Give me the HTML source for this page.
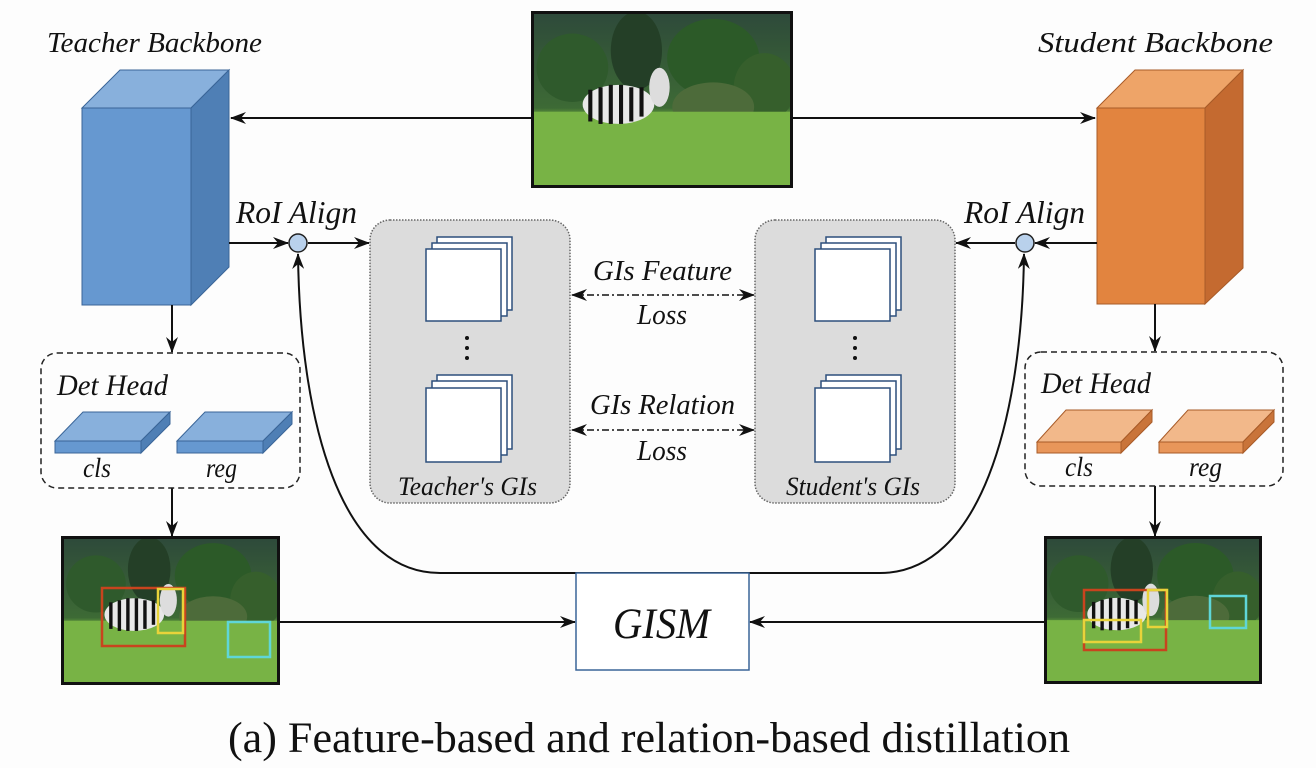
<!DOCTYPE html>
<html><head><meta charset="utf-8"><style>
html,body{margin:0;padding:0;background:#fdfdfd;}
svg{display:block}
text{font-family:"Liberation Serif",serif;font-style:italic;fill:#111;}
</style></head><body>
<svg width="1316" height="768" viewBox="0 0 1316 768" xmlns="http://www.w3.org/2000/svg">
<defs>
<marker id="ah" viewBox="0 0 16 12" refX="15" refY="6" markerWidth="16" markerHeight="12" markerUnits="userSpaceOnUse" orient="auto-start-reverse">
<path d="M0,0 L16,6 L0,12 L5,6 z" fill="#111"/></marker>
<linearGradient id="sky" x1="0" y1="0" x2="0" y2="1">
<stop offset="0" stop-color="#2e4a3a"/><stop offset="0.55" stop-color="#3d6a35"/><stop offset="0.6" stop-color="#6aa43c"/><stop offset="1" stop-color="#7db74a"/></linearGradient>
<symbol id="scene" viewBox="0 0 100 70" preserveAspectRatio="none">
<rect width="100" height="70" fill="url(#sky)"/>
<ellipse cx="15" cy="22" rx="14" ry="14" fill="#2f5a2c"/>
<ellipse cx="40" cy="15" rx="10" ry="16" fill="#243f27"/>
<ellipse cx="70" cy="18" rx="18" ry="16" fill="#2c5a28"/>
<ellipse cx="90" cy="30" rx="12" ry="14" fill="#365f2c"/>
<ellipse cx="70" cy="38" rx="16" ry="10" fill="#4d6b3a"/>
<rect x="0" y="40" width="100" height="30" fill="#78b345"/>
<ellipse cx="33" cy="37" rx="14" ry="8" fill="#e8e8e8"/>
<g stroke="#111" stroke-width="1.6">
<line x1="22" y1="31" x2="22" y2="44"/><line x1="26" y1="30" x2="26" y2="45"/><line x1="30" y1="29" x2="30" y2="45"/><line x1="34" y1="29" x2="34" y2="45"/><line x1="38" y1="30" x2="38" y2="44"/><line x1="42" y1="30" x2="42" y2="42"/></g>
<ellipse cx="49" cy="30" rx="4" ry="8" fill="#ddd"/>
</symbol>
</defs>

<rect x="531" y="11" width="262" height="177" fill="#111"/>
<use href="#scene" x="534" y="14" width="256" height="171"/>

<rect x="61" y="536" width="219" height="149" fill="#111"/>
<use href="#scene" x="64" y="539" width="213" height="143"/>
<g fill="none" stroke-width="2.5">
<rect x="102" y="588" width="83" height="58" stroke="#c8441e"/>
<rect x="158" y="589" width="25" height="44" stroke="#e8d33a"/>
<rect x="228" y="622" width="42" height="35" stroke="#5fd6d8"/>
</g>
<rect x="1044" y="536" width="218" height="148" fill="#111"/>
<use href="#scene" x="1047" y="539" width="212" height="142"/>
<g fill="none" stroke-width="2.5">
<rect x="1084" y="590" width="82" height="60" stroke="#c8441e"/>
<rect x="1148" y="590" width="19" height="37" stroke="#e8d33a"/>
<rect x="1084" y="620" width="57" height="22" stroke="#e8d33a"/>
<rect x="1210" y="596" width="36" height="32" stroke="#5fd6d8"/>
</g>

<polygon points="82,108 120,70 229,70 191,108" fill="#88b0dc" stroke="#3a6598" stroke-width="1"/>
<polygon points="191,108 229,70 229,267 191,305" fill="#4f7fb5" stroke="#3a6598" stroke-width="1"/>
<rect x="82" y="108" width="109" height="197" fill="#6698d0" stroke="#3a6598" stroke-width="1"/>
<polygon points="1097,108 1135,70 1243,70 1205,108" fill="#eea468" stroke="#a85b28" stroke-width="1"/>
<polygon points="1205,108 1243,70 1243,268 1205,304" fill="#c46a30" stroke="#a85b28" stroke-width="1"/>
<rect x="1097" y="108" width="108" height="196" fill="#e2843f" stroke="#a85b28" stroke-width="1"/>

<text x="47" y="52" font-size="28" textLength="215" lengthAdjust="spacingAndGlyphs">Teacher Backbone</text>
<text x="1038" y="52" font-size="28" textLength="235" lengthAdjust="spacingAndGlyphs">Student Backbone</text>

<g stroke="#111" stroke-width="2" fill="none">
<line x1="531" y1="118" x2="231" y2="118" marker-end="url(#ah)"/>
<line x1="793" y1="118" x2="1095" y2="118" marker-end="url(#ah)"/>
<line x1="229" y1="243" x2="288" y2="243" marker-end="url(#ah)"/>
<line x1="308" y1="243" x2="369" y2="243" marker-end="url(#ah)"/>
<line x1="1097" y1="243" x2="1035" y2="243" marker-end="url(#ah)"/>
<line x1="1015" y1="243" x2="956" y2="243" marker-end="url(#ah)"/>
<line x1="172" y1="305" x2="172" y2="352" marker-end="url(#ah)"/>
<line x1="1155" y1="304" x2="1155" y2="351" marker-end="url(#ah)"/>
<line x1="172" y1="488" x2="172" y2="536" marker-end="url(#ah)"/>
<line x1="1155" y1="486" x2="1155" y2="536" marker-end="url(#ah)"/>
<line x1="280" y1="622" x2="575" y2="622" marker-end="url(#ah)"/>
<line x1="1044" y1="622" x2="750" y2="622" marker-end="url(#ah)"/>
<path d="M298,254 C300,420 340,573 440,573 L880,573 C980,573 1022,420 1024,254" marker-start="url(#ah)" marker-end="url(#ah)"/>
</g>
<circle cx="298" cy="243" r="9" fill="#b9d1ec" stroke="#222" stroke-width="1.5"/>
<circle cx="1025" cy="243" r="9" fill="#b9d1ec" stroke="#222" stroke-width="1.5"/>
<text x="236" y="223" font-size="32" textLength="121" lengthAdjust="spacingAndGlyphs">RoI Align</text>
<text x="964" y="223" font-size="32" textLength="121" lengthAdjust="spacingAndGlyphs">RoI Align</text>

<rect x="370" y="220" width="200" height="283" rx="20" fill="#dcdcdc" stroke="#666" stroke-width="1.5" stroke-dasharray="1.5,1.5"/>
<rect x="755" y="220" width="200" height="283" rx="20" fill="#dcdcdc" stroke="#666" stroke-width="1.5" stroke-dasharray="1.5,1.5"/>
<g fill="#fff" stroke="#2d4f7c" stroke-width="1.5">
<rect x="437" y="237" width="75" height="73"/><rect x="432" y="243" width="75" height="73"/><rect x="426" y="249" width="75" height="72"/>
<rect x="437" y="375" width="75" height="74"/><rect x="432" y="381" width="75" height="74"/><rect x="426" y="388" width="75" height="74"/>
<rect x="826" y="237" width="75" height="73"/><rect x="821" y="243" width="75" height="73"/><rect x="815" y="249" width="75" height="72"/>
<rect x="826" y="375" width="75" height="74"/><rect x="821" y="381" width="75" height="74"/><rect x="815" y="388" width="75" height="74"/>
</g>
<g fill="#111"><circle cx="467" cy="338" r="2"/><circle cx="467" cy="348" r="2"/><circle cx="467" cy="358" r="2"/>
<circle cx="855" cy="338" r="2"/><circle cx="855" cy="348" r="2"/><circle cx="855" cy="358" r="2"/></g>
<text x="398" y="495" font-size="26" textLength="139" lengthAdjust="spacingAndGlyphs">Teacher's GIs</text>
<text x="786" y="495" font-size="26" textLength="134" lengthAdjust="spacingAndGlyphs">Student's GIs</text>

<g stroke="#111" stroke-width="1.6" fill="none" stroke-dasharray="7,3,2,3">
<line x1="572" y1="295" x2="754" y2="295" marker-start="url(#ah)" marker-end="url(#ah)"/>
<line x1="572" y1="430" x2="754" y2="430" marker-start="url(#ah)" marker-end="url(#ah)"/>
</g>
<text x="593" y="280" font-size="28" textLength="139" lengthAdjust="spacingAndGlyphs">GIs Feature</text>
<text x="637" y="324" font-size="28" textLength="50" lengthAdjust="spacingAndGlyphs">Loss</text>
<text x="590" y="414" font-size="28" textLength="145" lengthAdjust="spacingAndGlyphs">GIs Relation</text>
<text x="637" y="460" font-size="28" textLength="50" lengthAdjust="spacingAndGlyphs">Loss</text>

<rect x="41" y="353" width="259" height="135" rx="16" fill="none" stroke="#222" stroke-width="1.5" stroke-dasharray="6,4"/>
<rect x="1025" y="352" width="258" height="134" rx="16" fill="none" stroke="#222" stroke-width="1.5" stroke-dasharray="6,4"/>
<text x="57" y="395" font-size="30" textLength="111" lengthAdjust="spacingAndGlyphs">Det Head</text>
<text x="1041" y="393" font-size="30" textLength="110" lengthAdjust="spacingAndGlyphs">Det Head</text>
<g stroke="#3a6598" stroke-width="1">
<polygon points="55,441 83,412 170,412 141,441" fill="#88b0dc"/><polygon points="141,441 170,412 170,424 141,453" fill="#4f7fb5"/><rect x="55" y="441" width="86" height="12" fill="#6698d0"/>
<polygon points="177,441 205,412 292,412 263,441" fill="#88b0dc"/><polygon points="263,441 292,412 292,424 263,453" fill="#4f7fb5"/><rect x="177" y="441" width="86" height="12" fill="#6698d0"/>
</g>
<g stroke="#a85b28" stroke-width="1">
<polygon points="1037,442 1066,410 1152,410 1121,442" fill="#f2b88a"/><polygon points="1121,442 1152,410 1152,422 1121,453" fill="#c9743a"/><rect x="1037" y="442" width="84" height="11" fill="#e8965a"/>
<polygon points="1159,442 1188,410 1274,410 1243,442" fill="#f2b88a"/><polygon points="1243,442 1274,410 1274,422 1243,453" fill="#c9743a"/><rect x="1159" y="442" width="84" height="11" fill="#e8965a"/>
</g>
<text x="83" y="477" font-size="27" textLength="28" lengthAdjust="spacingAndGlyphs">cls</text>
<text x="206" y="477" font-size="27" textLength="31" lengthAdjust="spacingAndGlyphs">reg</text>
<text x="1065" y="476" font-size="27" textLength="28" lengthAdjust="spacingAndGlyphs">cls</text>
<text x="1189" y="476" font-size="27" textLength="33" lengthAdjust="spacingAndGlyphs">reg</text>

<rect x="576" y="573" width="173" height="97" fill="#fff" stroke="#3a6598" stroke-width="1.5"/>
<text x="613" y="638" font-size="43" textLength="97" lengthAdjust="spacingAndGlyphs">GISM</text>

<text x="228" y="752" font-size="43" textLength="842" lengthAdjust="spacingAndGlyphs" style="font-style:normal">(a)  Feature-based and relation-based distillation</text>
</svg>
</body></html>
